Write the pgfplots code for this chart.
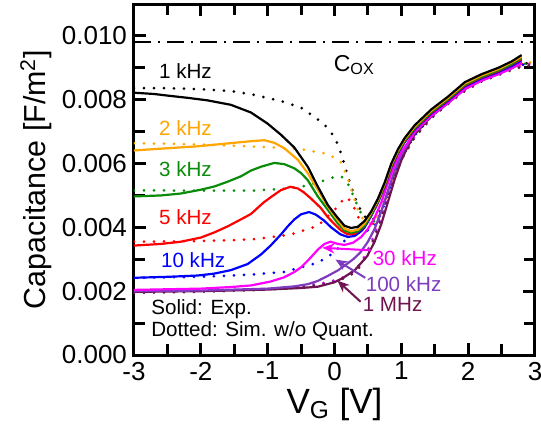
\documentclass[border=0pt]{standalone}
\usepackage{fontspec}
\setmainfont{Liberation Sans}
\usepackage{pgfplots}
\pgfplotsset{compat=1.18}
\usetikzlibrary{arrows.meta}
\definecolor{cOra}{RGB}{255,165,0}
\definecolor{cGre}{RGB}{10,140,10}
\definecolor{cRed}{RGB}{255,0,0}
\definecolor{cBlu}{RGB}{0,0,255}
\definecolor{cMag}{RGB}{255,0,255}
\definecolor{cPur}{RGB}{125,60,190}
\definecolor{cMar}{RGB}{110,20,80}
\tikzset{
  sol/.style={line width=1.1pt},
  dot/.style={line width=1.5pt, dash pattern=on 0pt off 5pt, line cap=round},
  ann/.style={font=\fontsize{10.3}{12}\selectfont, inner sep=0pt},
}
\begin{document}
\begin{tikzpicture}
\useasboundingbox (-67pt,-36.5pt) rectangle (203.5pt,177.5pt);
\begin{axis}[
    at={(0,0)}, anchor=south west,
    scale only axis,
    width=200.5pt, height=175.5pt,
    xmin=-3, xmax=3, ymin=0, ymax=0.011,
    xtick={-3,-2,-1,0,1,2,3},
    xticklabels={-3,-2,-1,0,1,2,3},
    minor xtick={-2.5,-1.5,-0.5,0.5,1.5,2.5},
    ytick={0,0.002,0.004,0.006,0.008,0.010},
    yticklabels={0.000,0.002,0.004,0.006,0.008,0.010},
    minor ytick={0.001,0.003,0.005,0.007,0.009,0.011},
    tick align=inside,
    major tick length=6pt, minor tick length=5.5pt,
    every tick/.style={line width=1.5pt, black},
    axis line style={line width=1.5pt},
    tick label style={font=\fontsize{13}{13}\selectfont},
    xlabel={V\textsubscript{G} [V]},
    ylabel={Capacitance [F/m\textsuperscript{2}]},
    xlabel style={font=\fontsize{17.5}{18}\selectfont, at={(axis description cs:0.5,0)}, anchor=base, yshift=-29pt},
    ylabel style={font=\fontsize{15.2}{16}\selectfont, at={(axis description cs:-0.2444,0.5)}, anchor=center},
    clip=true,
]
% C_ox
\addplot[line width=1pt, dash pattern=on 8.5pt off 3.5pt on 1pt off 3.5pt] coordinates {(-3,0.0098) (3,0.0098)};

% dotted: simulation without quantization
\addplot[dot, black] coordinates {(-3,0.00836) (-2.5,0.00836) (-2.0,0.00833) (-1.55,0.00827) (-1.2,0.00815) (-0.8,0.00796) (-0.5,0.00775) (-0.31,0.00748) (-0.15,0.00722) (-0.01,0.00686) (0.07,0.00650) (0.13,0.00610) (0.2,0.00560) (0.27,0.00515) (0.34,0.00475) (0.43,0.00438) (0.52,0.00422) (0.6,0.00428) (0.7,0.00455) (0.8,0.00510) (0.9,0.00570) (1.0,0.00620) (1.2,0.00690) (1.45,0.00750) (1.7,0.00795) (1.95,0.00835) (2.2,0.00865) (2.45,0.00885) (2.7,0.00905) (2.95,0.00918)};
\addplot[dot, cOra] coordinates {(-3,0.00664) (-2,0.00660) (-1.06,0.00652) (-0.5,0.00645) (-0.1,0.00630) (0.09,0.00607) (0.19,0.00560) (0.28,0.00500) (0.36,0.00450) (0.45,0.00418) (0.55,0.00412) (0.62,0.00425) (0.7,0.00452) (0.8,0.00510) (0.9,0.00570) (1.0,0.00620) (1.2,0.00690) (1.45,0.00750) (1.7,0.00795) (1.95,0.00835) (2.2,0.00865) (2.45,0.00885) (2.7,0.00905) (2.95,0.00918)};
\addplot[dot, cGre] coordinates {(-3,0.00516) (-2,0.00515) (-1.25,0.00515) (-0.8,0.00520) (-0.51,0.00527) (-0.25,0.00540) (-0.01,0.00557) (0.1,0.00560) (0.18,0.00545) (0.26,0.00510) (0.34,0.00470) (0.43,0.00430) (0.52,0.00412) (0.6,0.00420) (0.7,0.00450) (0.8,0.00510) (0.9,0.00570) (1.0,0.00620) (1.2,0.00690) (1.45,0.00750) (1.7,0.00795) (1.95,0.00835) (2.2,0.00865) (2.45,0.00885) (2.7,0.00905) (2.95,0.00918)};
\addplot[dot, cRed] coordinates {(-3,0.00355) (-2,0.00357) (-1.25,0.00362) (-0.66,0.00377) (-0.25,0.00405) (-0.01,0.00452) (0.1,0.00480) (0.19,0.00495) (0.28,0.00468) (0.36,0.00430) (0.45,0.00405) (0.55,0.00405) (0.62,0.00420) (0.7,0.00448) (0.8,0.00510) (0.9,0.00570) (1.0,0.00620) (1.2,0.00690) (1.45,0.00750) (1.7,0.00795) (1.95,0.00835) (2.2,0.00865) (2.45,0.00885) (2.7,0.00905) (2.95,0.00918)};
\addplot[dot, cBlu] coordinates {(-3,0.00242) (-2,0.00245) (-1.25,0.00252) (-0.76,0.00260) (-0.25,0.00289) (-0.01,0.00320) (0.12,0.00350) (0.24,0.00380) (0.32,0.00400) (0.42,0.00392) (0.52,0.00390) (0.62,0.00410) (0.7,0.00445) (0.8,0.00508) (0.9,0.00568) (1.0,0.00618) (1.2,0.00688) (1.45,0.00748) (1.7,0.00793) (1.95,0.00833) (2.2,0.00863) (2.45,0.00883) (2.7,0.00903) (2.95,0.00916)};
\addplot[dot, cMag] coordinates {(-3,0.00196) (-2,0.00200) (-1,0.00207) (-0.5,0.00215) (-0.1,0.00228) (0.1,0.00240) (0.28,0.00262) (0.4,0.00290) (0.5,0.00330) (0.6,0.00378) (0.7,0.00440) (0.8,0.00505) (0.9,0.00566) (1.0,0.00616) (1.2,0.00686) (1.45,0.00746) (1.7,0.00791) (1.95,0.00831) (2.2,0.00861) (2.45,0.00881) (2.7,0.00901) (2.95,0.00914)};
\addplot[dot, cPur] coordinates {(-3,0.00195) (-2,0.00199) (-1,0.00206) (-0.5,0.00214) (-0.1,0.00226) (0.1,0.00238) (0.28,0.00258) (0.4,0.00285) (0.5,0.00325) (0.6,0.00372) (0.7,0.00435) (0.8,0.00502) (0.9,0.00563) (1.0,0.00614) (1.2,0.00684) (1.45,0.00744) (1.7,0.00789) (1.95,0.00829) (2.2,0.00859) (2.45,0.00879) (2.7,0.00899) (2.95,0.00912)};
\addplot[dot, cMar] coordinates {(-3,0.00195) (-2,0.00198) (-1,0.00205) (-0.5,0.00212) (-0.1,0.00224) (0.1,0.00236) (0.28,0.00255) (0.4,0.00280) (0.5,0.00320) (0.6,0.00368) (0.7,0.00430) (0.8,0.00500) (0.9,0.00560) (1.0,0.00612) (1.2,0.00682) (1.45,0.00742) (1.7,0.00787) (1.95,0.00827) (2.2,0.00857) (2.45,0.00877) (2.7,0.00897) (2.95,0.00910)};

% solid: experiment
\addplot[sol, cMar] coordinates {(-3,0.00198) (-2.0,0.00200) (-1.0,0.00205) (-0.5,0.00210) (-0.25,0.00214) (0.0,0.00228) (0.13,0.00242) (0.3,0.00265) (0.49,0.00310) (0.6,0.00355) (0.7,0.00410) (0.8,0.00480) (0.9,0.00550) (1.0,0.00610) (1.1,0.00655) (1.2,0.00693) (1.45,0.00748) (1.7,0.00790) (1.95,0.00834) (2.2,0.00861) (2.45,0.00882) (2.65,0.00900) (2.8,0.00918)};
\addplot[sol, cPur] coordinates {(-3,0.00200) (-2.0,0.00202) (-1.0,0.00208) (-0.6,0.00215) (-0.4,0.00222) (-0.25,0.00232) (-0.1,0.00248) (0.05,0.00265) (0.15,0.00280) (0.28,0.00300) (0.39,0.00322) (0.5,0.00355) (0.6,0.00395) (0.7,0.00450) (0.8,0.00515) (0.9,0.00578) (1.0,0.00628) (1.1,0.00662) (1.2,0.00698) (1.45,0.00750) (1.7,0.00790) (1.95,0.00834) (2.2,0.00860) (2.45,0.00880) (2.65,0.00899) (2.8,0.00916)};
\addplot[sol, cMag] coordinates {(-3,0.00204) (-2.5,0.00206) (-2.0,0.00208) (-1.55,0.00213) (-1.25,0.00218) (-0.96,0.00230) (-0.76,0.00243) (-0.6,0.00260) (-0.5,0.00275) (-0.38,0.00300) (-0.25,0.00330) (-0.15,0.00348) (-0.06,0.00355) (0.05,0.00348) (0.15,0.00345) (0.28,0.00352) (0.4,0.00370) (0.5,0.00395) (0.6,0.00430) (0.7,0.00478) (0.8,0.00540) (0.9,0.00596) (1.0,0.00636) (1.1,0.00666) (1.2,0.00700) (1.45,0.00750) (1.7,0.00790) (1.95,0.00833) (2.2,0.00860) (2.45,0.00880) (2.65,0.00898) (2.8,0.00915)};
\addplot[sol, cBlu] coordinates {(-3,0.00242) (-2.5,0.00245) (-2.05,0.00249) (-1.8,0.00255) (-1.55,0.00266) (-1.3,0.00285) (-1.1,0.00315) (-0.96,0.00342) (-0.8,0.00378) (-0.7,0.00403) (-0.6,0.00425) (-0.5,0.00441) (-0.38,0.00448) (-0.28,0.00440) (-0.16,0.00422) (-0.05,0.00400) (0.09,0.00378) (0.2,0.00370) (0.3,0.00373) (0.4,0.00388) (0.45,0.00400) (0.55,0.00436) (0.65,0.00477) (0.75,0.00527) (0.85,0.00587) (0.95,0.00632) (1.05,0.00667) (1.2,0.00707) (1.45,0.00757) (1.7,0.00797) (1.95,0.00842) (2.2,0.00867) (2.45,0.00887) (2.65,0.00906) (2.8,0.00924)};
\addplot[sol, cRed] coordinates {(-3,0.00343) (-2.6,0.00348) (-2.3,0.00355) (-2.0,0.00368) (-1.8,0.00384) (-1.6,0.00403) (-1.4,0.00425) (-1.25,0.00442) (-1.06,0.00478) (-0.95,0.00495) (-0.8,0.00517) (-0.66,0.00527) (-0.55,0.00522) (-0.46,0.00510) (-0.35,0.00490) (-0.21,0.00462) (-0.1,0.00432) (0.0,0.00410) (0.1,0.00390) (0.2,0.00378) (0.3,0.00380) (0.4,0.00395) (0.45,0.00405) (0.55,0.00440) (0.65,0.00480) (0.75,0.00530) (0.85,0.00590) (0.95,0.00635) (1.05,0.00670) (1.2,0.00710) (1.45,0.00760) (1.7,0.00800) (1.95,0.00845) (2.2,0.00870) (2.45,0.00890) (2.65,0.00910) (2.8,0.00928)};
\addplot[sol, cGre] coordinates {(-3,0.00497) (-2.6,0.00500) (-2.3,0.00506) (-2.0,0.00518) (-1.8,0.00528) (-1.6,0.00543) (-1.4,0.00560) (-1.25,0.00578) (-1.1,0.00590) (-0.9,0.00602) (-0.75,0.00598) (-0.6,0.00585) (-0.5,0.00570) (-0.4,0.00548) (-0.25,0.00497) (-0.1,0.00455) (0.04,0.00415) (0.15,0.00390) (0.25,0.00383) (0.35,0.00388) (0.45,0.00405) (0.55,0.00441) (0.65,0.00482) (0.75,0.00532) (0.85,0.00592) (0.95,0.00637) (1.05,0.00672) (1.2,0.00712) (1.45,0.00762) (1.7,0.00802) (1.95,0.00847) (2.2,0.00872) (2.45,0.00892) (2.65,0.00912) (2.8,0.00932)};
\addplot[sol, cOra] coordinates {(-3,0.00641) (-2.5,0.00648) (-2.05,0.00654) (-1.55,0.00664) (-1.25,0.00670) (-1.05,0.00673) (-0.9,0.00665) (-0.75,0.00648) (-0.55,0.00612) (-0.4,0.00570) (-0.25,0.00518) (-0.1,0.00465) (0.04,0.00425) (0.15,0.00396) (0.25,0.00388) (0.35,0.00393) (0.45,0.00412) (0.55,0.00446) (0.65,0.00486) (0.75,0.00536) (0.85,0.00596) (0.95,0.00641) (1.05,0.00676) (1.2,0.00716) (1.45,0.00766) (1.7,0.00806) (1.95,0.00851) (2.2,0.00876) (2.45,0.00896) (2.65,0.00917) (2.8,0.00935)};
\addplot[sol, black] coordinates {(-3,0.00822) (-2.7,0.00818) (-2.5,0.00813) (-2.2,0.00806) (-1.9,0.00798) (-1.55,0.00784) (-1.25,0.00760) (-1.0,0.00725) (-0.8,0.00690) (-0.6,0.00650) (-0.4,0.00590) (-0.25,0.00528) (-0.1,0.00470) (0.04,0.00432) (0.15,0.00405) (0.25,0.00398) (0.35,0.00402) (0.45,0.00420) (0.55,0.00450) (0.65,0.00490) (0.75,0.00540) (0.85,0.00600) (0.95,0.00645) (1.05,0.00680) (1.2,0.00720) (1.45,0.00770) (1.7,0.00810) (1.95,0.00855) (2.2,0.00880) (2.45,0.00900) (2.65,0.00920) (2.8,0.00940)};

% annotations
\node[ann, anchor=west, black] at (axis cs:-2.63,0.0089) {1 kHz};
\node[ann, anchor=west, cOra] at (axis cs:-2.63,0.00712) {2 kHz};
\node[ann, anchor=west, cGre] at (axis cs:-2.63,0.00582) {3 kHz};
\node[ann, anchor=west, cRed] at (axis cs:-2.63,0.00432) {5 kHz};
\node[ann, anchor=west, cBlu] at (axis cs:-2.60,0.00297) {10 kHz};
\node[inner sep=0pt, anchor=base west, font=\fontsize{11.5}{12}\selectfont] at (axis cs:-0.015,0.0089) {C\textsubscript{OX}};
\node[ann, anchor=west, cMag] at (axis cs:0.567,0.00302) {30 kHz};
\node[ann, anchor=west, cPur] at (axis cs:0.463,0.00223) {100 kHz};
\node[ann, anchor=west, cMar] at (axis cs:0.418,0.00157) {1 MHz};
\draw[cMag, line width=1pt, -{Stealth[length=6pt,width=5pt]}] (axis cs:0.54,0.00328) -- (axis cs:-0.18,0.00336);
\draw[cPur, line width=1pt, -{Stealth[length=6pt,width=5pt]}] (axis cs:0.46,0.00242) -- (axis cs:0.015,0.00299);
\draw[cMar, line width=1pt, -{Stealth[length=6pt,width=5pt]}] (axis cs:0.39,0.00167) -- (axis cs:0.045,0.00233);
\node[ann, anchor=base west] at (axis cs:-2.746,0.00126) {Solid: Exp.};
\node[ann, anchor=base west] at (axis cs:-2.746,0.00057) {Dotted: Sim. w/o Quant.};
\end{axis}
\end{tikzpicture}
\end{document}
